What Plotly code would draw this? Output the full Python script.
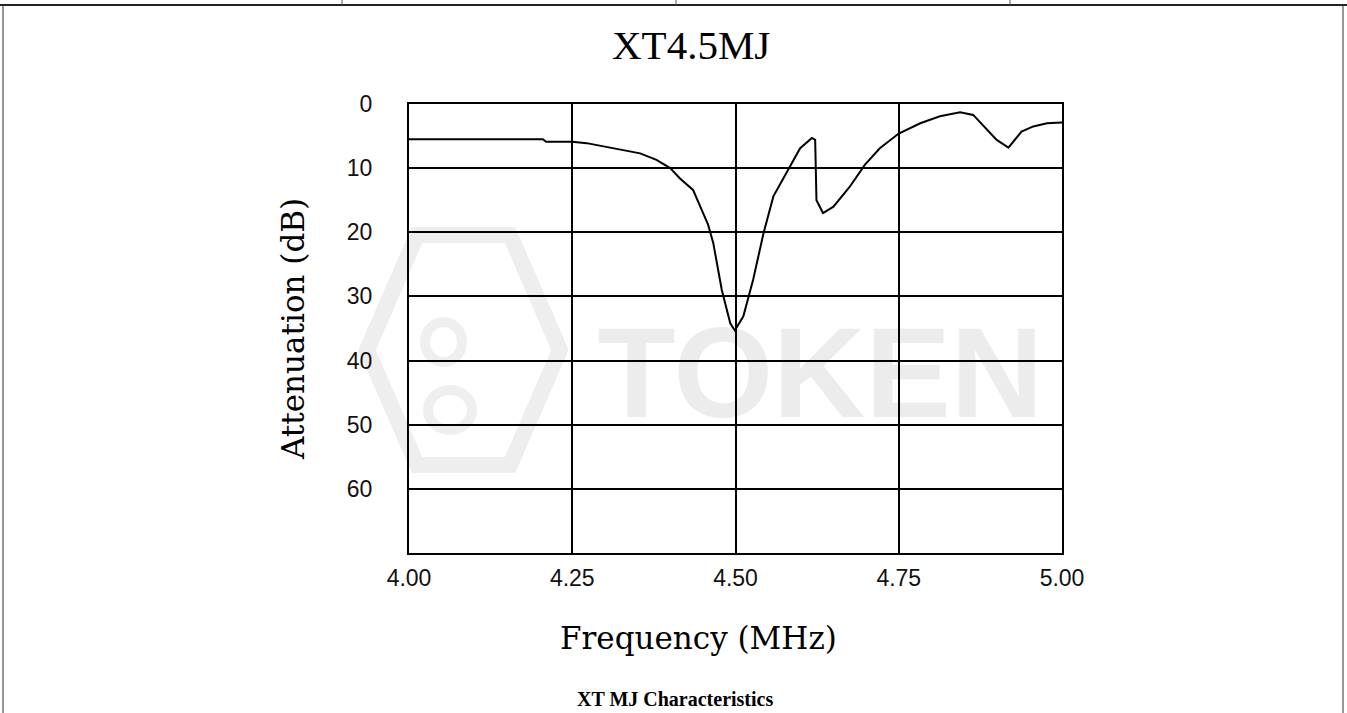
import plotly.graph_objects as go

# ---- data ----
freq_mhz = [4.00, 4.205, 4.21, 4.25, 4.272, 4.313, 4.354, 4.379, 4.40, 4.415,
            4.435, 4.458, 4.466, 4.479, 4.492, 4.499, 4.512, 4.527, 4.543, 4.558,
            4.583, 4.599, 4.617, 4.622, 4.624, 4.634, 4.650, 4.675, 4.698, 4.721,
            4.750, 4.783, 4.813, 4.844, 4.864, 4.880, 4.900, 4.918, 4.938, 4.956,
            4.977, 5.00]
atten_db = [5.5, 5.5, 5.9, 5.9, 6.1, 6.9, 7.7, 8.7, 10.0, 11.6,
            13.4, 18.8, 21.7, 29.0, 34.2, 35.3, 33.1, 27.4, 20.1, 14.4,
            9.8, 6.9, 5.3, 5.6, 15.0, 17.0, 16.0, 12.9, 9.5, 6.9,
            4.6, 3.0, 1.9, 1.3, 1.7, 3.5, 5.6, 6.8, 4.3, 3.5,
            3.0, 2.9]
x_ticks = [4.00, 4.25, 4.50, 4.75, 5.00]
x_tick_labels = ["4.00", "4.25", "4.50", "4.75", "5.00"]
y_ticks = [0, 10, 20, 30, 40, 50, 60]
y_tick_labels = ["0", "10", "20", "30", "40", "50", "60"]

title_text = "XT4.5MJ"
x_title = "Frequency (MHz)"
y_title = "Attenuation (dB)"
caption = "XT MJ Characteristics"

W, H = 1347, 713
L, R, T, B = 409, 1062, 104, 553


def px(x):
    return (x - L) / (R - L)


def py(y):
    return (B - y) / (B - T)


fig = go.Figure()
fig.add_trace(go.Scatter(
    x=freq_mhz, y=atten_db, mode="lines",
    line=dict(color="black", width=2),
    hoverinfo="skip", showlegend=False,
))

shapes = []
# watermark (faint, beneath the grid)
shapes.append(dict(
    type="rect", xref="x", yref="y", x0=4.29, x1=4.97, y0=31, y1=49,
    line=dict(width=0), fillcolor="rgba(0,0,0,0)", layer="below",
    label=dict(text="<b>TOKEN</b>", font=dict(family="Liberation Sans", size=128, color="#ececec"),
               textposition="middle center"),
))
hexpts = [(417, 235), (510, 235), (560, 350), (510, 465), (417, 465), (367, 350)]
path = "M " + " L ".join(f"{px(a):.4f},{py(b):.4f}" for a, b in hexpts) + " Z"
shapes.append(dict(type="path", xref="paper", yref="paper", path=path,
                   line=dict(color="#eeeeee", width=16), layer="below"))
shapes.append(dict(type="circle", xref="paper", yref="paper",
                   x0=px(425), x1=px(462), y0=py(362), y1=py(322),
                   line=dict(color="#efefef", width=10), layer="below"))
shapes.append(dict(type="circle", xref="paper", yref="paper",
                   x0=px(428), x1=px(472), y0=py(430), y1=py(390),
                   line=dict(color="#efefef", width=10), layer="below"))

# page table borders
shapes.append(dict(type="line", xref="paper", yref="paper",
                   x0=px(0), x1=px(W), y0=py(5), y1=py(5),
                   line=dict(color="#222", width=2)))
for vx in [342, 676, 1010]:
    shapes.append(dict(type="line", xref="paper", yref="paper",
                       x0=px(vx), x1=px(vx), y0=py(0), y1=py(5),
                       line=dict(color="#555", width=1)))
for vx in [3, 1343]:
    shapes.append(dict(type="line", xref="paper", yref="paper",
                       x0=px(vx), x1=px(vx), y0=py(5), y1=py(H),
                       line=dict(color="#333", width=1)))

annotations = [
    dict(text=title_text, xref="paper", yref="paper", x=px(691), y=py(45),
         xanchor="center", yanchor="middle", showarrow=False,
         font=dict(family="Liberation Serif", size=41, color="black")),
    dict(text=x_title, xref="paper", yref="paper", x=px(698), y=py(638),
         xanchor="center", yanchor="middle", showarrow=False,
         font=dict(family="DejaVu Serif", size=31, color="black")),
    dict(text=y_title, xref="paper", yref="paper", x=px(293), y=py(329),
         xanchor="center", yanchor="middle", showarrow=False, textangle=-90,
         font=dict(family="DejaVu Serif", size=31, color="black")),
    dict(text="<b>" + caption + "</b>", xref="paper", yref="paper", x=px(675), y=py(699),
         xanchor="center", yanchor="middle", showarrow=False,
         font=dict(family="Liberation Serif", size=20, color="black")),
]

fig.update_layout(
    width=W, height=H,
    margin=dict(l=L, r=W - R, t=T, b=H - B, pad=0),
    paper_bgcolor="white", plot_bgcolor="white",
    shapes=shapes, annotations=annotations, showlegend=False,
)
fig.update_xaxes(
    range=[4.0, 5.0], tickvals=x_ticks, ticktext=x_tick_labels,
    showgrid=True, gridcolor="black", gridwidth=2,
    showline=True, linecolor="black", linewidth=2, mirror=True,
    ticks="outside", ticklen=0, ticklabelstandoff=3, zeroline=False,
    tickfont=dict(family="Liberation Sans", size=23, color="#111"),
)
fig.update_yaxes(
    range=[70, 0], tickvals=y_ticks, ticktext=y_tick_labels,
    showgrid=True, gridcolor="black", gridwidth=2,
    showline=True, linecolor="black", linewidth=2, mirror=True,
    ticks="outside", ticklen=0, ticklabelstandoff=30, zeroline=False,
    tickfont=dict(family="Liberation Sans", size=23, color="#111"),
)

fig.write_html(
    "out.html",
    config={"displayModeBar": False},
    post_script="document.body.style.margin='0';document.body.style.overflow='hidden';",
)
